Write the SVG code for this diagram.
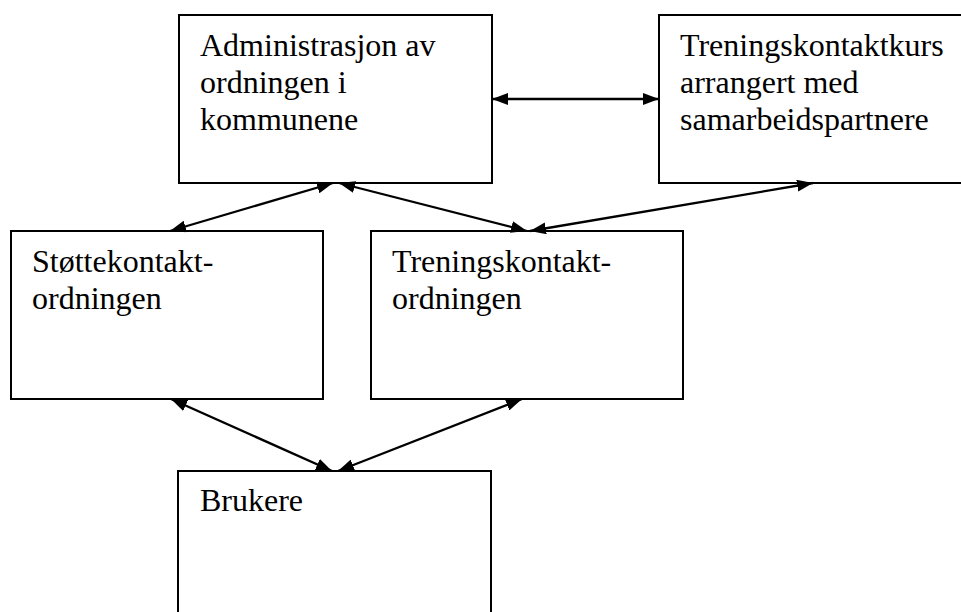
<svg xmlns="http://www.w3.org/2000/svg" width="961" height="612" viewBox="0 0 961 612">
<style>
.box{fill:#fff;stroke:#000;stroke-width:2}
.t{font-family:"Liberation Serif","Times New Roman",serif;font-size:32px;fill:#000}
.c{stroke:#000;stroke-width:2.3;fill:none;marker-start:url(#ah);marker-end:url(#ah)}
</style>
<defs>
<marker id="ah" viewBox="0 0 16 12" refX="16" refY="6" markerWidth="16" markerHeight="12" markerUnits="userSpaceOnUse" orient="auto-start-reverse">
<path d="M0,0 L16,6 L0,12 Z" fill="#000"/>
</marker>
</defs>
<rect width="961" height="612" fill="#fff"/>
<g id="admin">
<rect class="box" x="179" y="15" width="313" height="168"/>
<text class="t" x="200" y="56">Administrasjon av</text>
<text class="t" x="200" y="93">ordningen i</text>
<text class="t" x="200" y="130">kommunene</text>
</g>
<g id="kurs">
<path class="box" d="M965,15 L659,15 L659,183 L965,183"/>
<text class="t" x="680" y="56">Treningskontaktkurs</text>
<text class="t" x="680" y="93">arrangert med</text>
<text class="t" x="680" y="130">samarbeidspartnere</text>
</g>
<g id="stotte">
<rect class="box" x="11" y="231" width="312" height="168"/>
<text class="t" x="32" y="272">Støttekontakt-</text>
<text class="t" x="32" y="309">ordningen</text>
</g>
<g id="treningsordning">
<rect class="box" x="371" y="231" width="312" height="168"/>
<text class="t" x="392" y="272">Treningskontakt-</text>
<text class="t" x="392" y="309">ordningen</text>
</g>
<g id="brukere">
<rect class="box" x="178" y="471" width="313" height="160"/>
<text class="t" x="200" y="511">Brukere</text>
</g>
<g id="connectors">
<line class="c" x1="492" y1="99" x2="659" y2="99"/>
<line class="c" x1="333" y1="183" x2="170" y2="231"/>
<line class="c" x1="339" y1="183" x2="527" y2="231"/>
<line class="c" x1="813" y1="183" x2="530" y2="231"/>
<line class="c" x1="171" y1="399" x2="332" y2="471"/>
<line class="c" x1="522" y1="399" x2="338" y2="471"/>
</g>
</svg>
